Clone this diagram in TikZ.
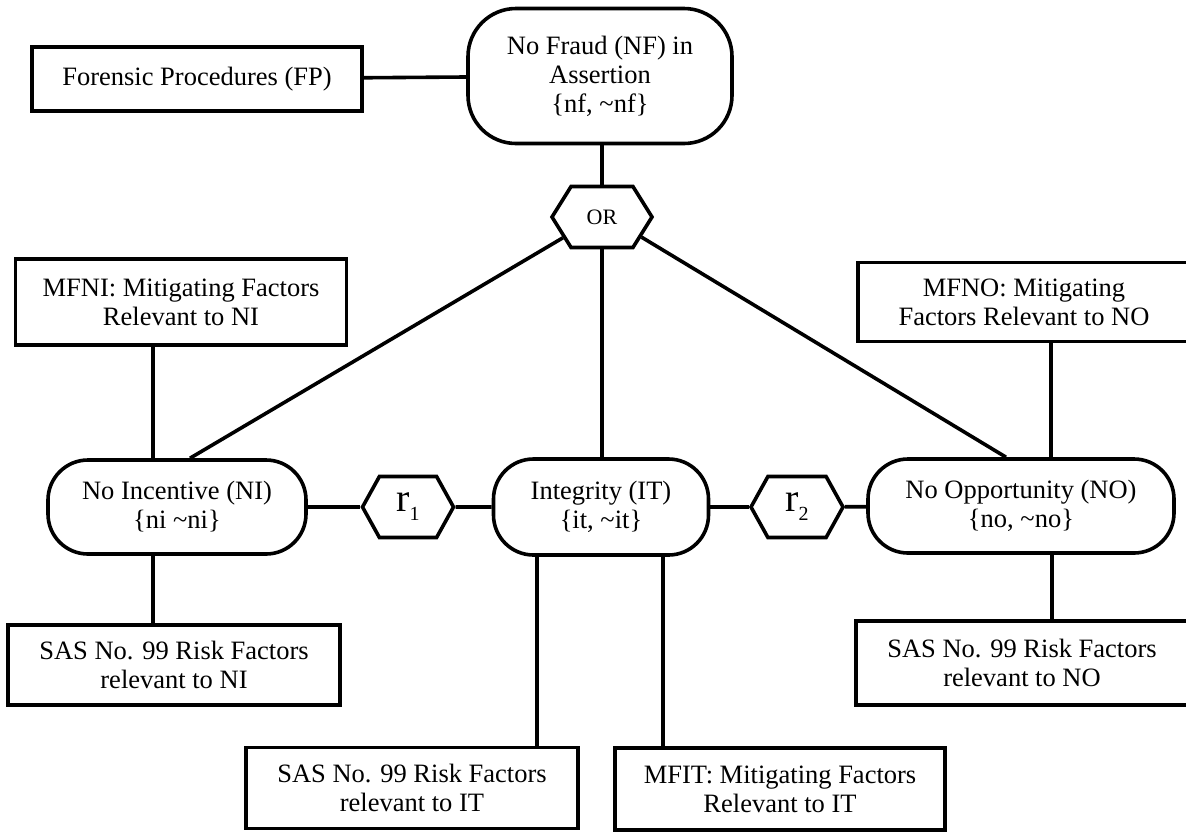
\documentclass[tikz,border=0pt]{standalone}
\usepackage{fontspec}
\setmainfont{Liberation Serif}
\usetikzlibrary{shapes.symbols}

\newcommand{\relsub}[1]{{\fontsize{40}{40}\selectfont r}\raisebox{-9pt}{\fontsize{20}{20}\selectfont #1}}

\begin{document}
\begin{tikzpicture}[x=1pt, y=-1pt, line width=3.6pt,
        every node/.style={font=\fontsize{26.5}{29}\selectfont, align=center},
        box/.style={draw, rectangle, inner sep=0pt},
        oval/.style={draw, rectangle, rounded corners=40pt, inner sep=0pt},
        gate/.style={draw, signal, signal to=east and west, signal pointer angle=116, inner sep=0pt}]
        \useasboundingbox (0,0) rectangle (1186,831);

        % Top level: assertion and procedures
        \node[box, minimum width=330pt, minimum height=64pt] (FP) at (197,79) {Forensic Procedures (FP)};
        \node[oval, rounded corners=48pt, minimum width=264pt, minimum height=135pt] (NF) at (600,76) {No Fraud (NF) in\\Assertion\\\{nf, \textasciitilde nf\}};
        \node[gate, minimum width=100pt, minimum height=61pt, font=\fontsize{22}{24}\selectfont] (OR) at (602,217) {OR};

        % Middle level: fraud conditions
        \node[oval, minimum width=258pt, minimum height=94pt] (NI) at (177,507) {No Incentive (NI)\\\{ni \textasciitilde ni\}};
        \node[oval, minimum width=215pt, minimum height=96pt] (IT) at (601,507) {Integrity (IT)\\\{it, \textasciitilde it\}};
        \node[oval, minimum width=306pt, minimum height=94pt] (NO) at (1021,506) {No Opportunity (NO)\\\{no, \textasciitilde no\}};

        % Relations between conditions
        \node[gate, minimum width=91pt, minimum height=61pt, signal pointer angle=122] (R1) at (408,507) {\relsub{1}};
        \node[gate, minimum width=92pt, minimum height=61pt, signal pointer angle=122] (R2) at (797,507) {\relsub{2}};

        % Mitigating factors
        \node[box, minimum width=331pt, minimum height=86pt] (MFNI) at (181,302) {MFNI: Mitigating Factors\\Relevant to NI};
        \node[box, minimum width=332pt, minimum height=79pt] (MFNO) at (1024,302) {MFNO: Mitigating\\Factors Relevant to NO};
        \node[box, minimum width=330pt, minimum height=82pt] (MFIT) at (780,789) {MFIT: Mitigating Factors\\Relevant to IT};

        % Risk factors
        \node[box, minimum width=332pt, minimum height=80pt] (SASNI) at (174,665) {SAS No. 99 Risk Factors\\relevant to NI};
        \node[box, minimum width=332pt, minimum height=84pt] (SASNO) at (1022,663) {SAS No. 99 Risk Factors\\relevant to NO};
        \node[box, minimum width=332pt, minimum height=81pt] (SASIT) at (412,788) {SAS No. 99 Risk Factors\\relevant to IT};

        % Connectors
        \draw (FP) -- (NF);
        \draw (NF.south -| OR.north) -- (OR.north);
        \draw (OR.208) -- ([xshift=13pt]NI.north);
        \draw (OR.south) -- (OR.south |- IT.north);
        \draw (OR.-27) -- ([xshift=-15pt]NO.north);

        \draw (NI) -- (R1);
        \draw (R1) -- (IT);
        \draw (IT) -- (R2);
        \draw (R2) -- (NO);

        \draw ([xshift=-24pt]NI.north) -- ([xshift=-24pt]NI.north |- MFNI.south);
        \draw ([xshift=-24pt]NI.south) -- ([xshift=-24pt]NI.south |- SASNI.north);
        \draw ([xshift=-64pt]IT.south) -- ([xshift=-64pt]IT.south |- SASIT.north);
        \draw ([xshift=62pt]IT.south) -- ([xshift=62pt]IT.south |- MFIT.north);
        \draw ([xshift=30pt]NO.north) -- ([xshift=30pt]NO.north |- MFNO.south);
        \draw ([xshift=31pt]NO.south) -- ([xshift=31pt]NO.south |- SASNO.north);
\end{tikzpicture}
\end{document}
